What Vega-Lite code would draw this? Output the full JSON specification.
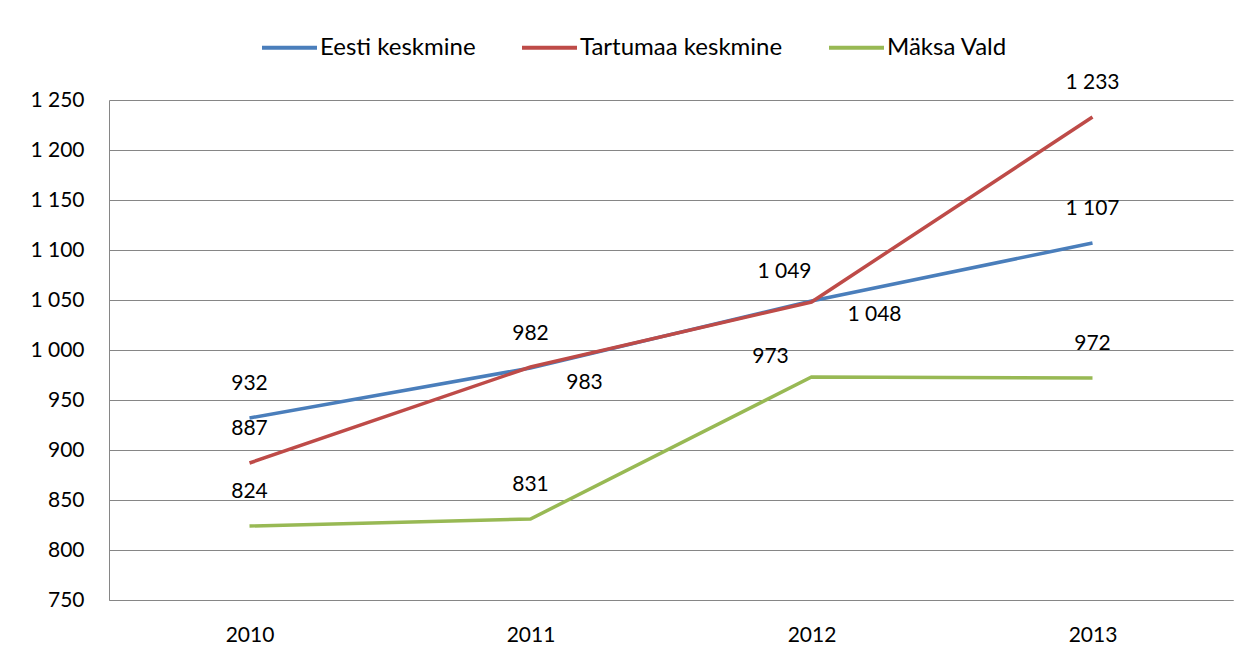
{
  "$schema": "https://vega.github.io/schema/vega-lite/v6.json",
  "width": 1124,
  "height": 500,
  "autosize": "none",
  "padding": {"left": 109, "top": 100, "right": 26, "bottom": 62},
  "background": "white",
  "config": {
    "font": "Lato",
    "view": {"stroke": null},
    "axis": {"labelFont": "Lato", "labelFontSize": 21, "labelColor": "#000000", "gridColor": "#868686", "gridWidth": 1, "domainColor": "#868686", "ticks": false, "title": null}
  },
  "data": {
    "values": [
      {"year": "2010", "series": "Eesti keskmine", "value": 932},
      {"year": "2011", "series": "Eesti keskmine", "value": 982},
      {"year": "2012", "series": "Eesti keskmine", "value": 1049},
      {"year": "2013", "series": "Eesti keskmine", "value": 1107},
      {"year": "2010", "series": "Tartumaa keskmine", "value": 887},
      {"year": "2011", "series": "Tartumaa keskmine", "value": 983},
      {"year": "2012", "series": "Tartumaa keskmine", "value": 1048},
      {"year": "2013", "series": "Tartumaa keskmine", "value": 1233},
      {"year": "2010", "series": "Mäksa Vald", "value": 824},
      {"year": "2011", "series": "Mäksa Vald", "value": 831},
      {"year": "2012", "series": "Mäksa Vald", "value": 973},
      {"year": "2013", "series": "Mäksa Vald", "value": 972}
    ]
  },
  "transform": [{"calculate": "replace(format(datum.value, ','), ',', ' ')", "as": "lbl"}],
  "encoding": {
    "x": {"field": "year", "type": "ordinal", "scale": {"type": "point", "padding": 0.5},
      "axis": {"labelAngle": 0, "labelPadding": 24, "grid": false, "domain": true}},
    "y": {"field": "value", "type": "quantitative", "scale": {"domain": [750, 1250], "nice": false, "zero": false},
      "axis": {"values": [750, 800, 850, 900, 950, 1000, 1050, 1100, 1150, 1200, 1250], "grid": true, "domain": true, "labelPadding": 25,
        "labelExpr": "replace(format(datum.value, ','), ',', ' ')"}}
  },
  "layer": [
    {
      "mark": {"type": "line", "strokeWidth": 3.5},
      "encoding": {
        "color": {"field": "series", "type": "nominal",
          "scale": {"domain": ["Eesti keskmine", "Tartumaa keskmine", "Mäksa Vald"], "range": ["#4A7EBB", "#BE4B48", "#98B954"]},
          "legend": {"title": null, "orient": "none", "legendX": 151, "legendY": -82, "direction": "horizontal",
            "symbolType": "stroke", "symbolSize": 3025, "symbolStrokeWidth": 4, "labelFontSize": 24, "labelFont": "Lato", "labelColor": "#000000",
            "labelOffset": 1, "columnPadding": 38, "labelLimit": 400}}
      }
    },
    {
      "transform": [{"filter": "!((datum.series == 'Tartumaa keskmine' && (datum.year == '2011' || datum.year == '2012')) || (datum.series == 'Eesti keskmine' && datum.year == '2012') || (datum.series == 'Mäksa Vald' && datum.year == '2012'))"}],
      "mark": {"type": "text", "dy": -34, "fontSize": 21, "font": "Lato", "color": "#000000"},
      "encoding": {"text": {"field": "lbl", "type": "nominal"}}
    },
    {
      "transform": [{"filter": "datum.series == 'Tartumaa keskmine' && datum.year == '2011'"}],
      "mark": {"type": "text", "dx": 54, "dy": 16, "fontSize": 21, "font": "Lato", "color": "#000000"},
      "encoding": {"text": {"field": "lbl", "type": "nominal"}}
    },
    {
      "transform": [{"filter": "datum.series == 'Tartumaa keskmine' && datum.year == '2012'"}],
      "mark": {"type": "text", "dx": 63, "dy": 13, "fontSize": 21, "font": "Lato", "color": "#000000"},
      "encoding": {"text": {"field": "lbl", "type": "nominal"}}
    },
    {
      "transform": [{"filter": "datum.series == 'Eesti keskmine' && datum.year == '2012'"}],
      "mark": {"type": "text", "dx": -27, "dy": -29, "fontSize": 21, "font": "Lato", "color": "#000000"},
      "encoding": {"text": {"field": "lbl", "type": "nominal"}}
    },
    {
      "transform": [{"filter": "datum.series == 'Mäksa Vald' && datum.year == '2012'"}],
      "mark": {"type": "text", "dx": -41, "dy": -20, "fontSize": 21, "font": "Lato", "color": "#000000"},
      "encoding": {"text": {"field": "lbl", "type": "nominal"}}
    }
  ]
}
